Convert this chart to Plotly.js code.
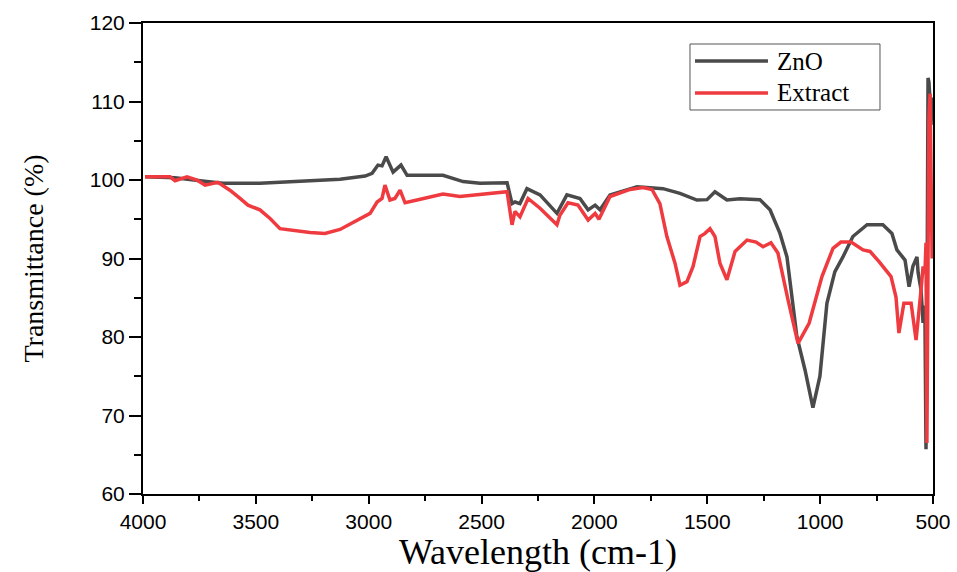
<!DOCTYPE html>
<html>
<head>
<meta charset="utf-8">
<script src="https://cdn.plot.ly/plotly-3.0.1.min.js"></script>
<style>html,body{margin:0;padding:0;background:#fff;}#chart{width:957px;height:572px;}</style>
</head>
<body>
<div id="chart"></div>
<script>
// ZnO spectrum (wavenumber, transmittance)
var znoX = [3991,3858,3747,3646,3482,3304,3127,3016,2985,2959,2941,2923,2892,2857,2830,2671,2582,2507,2387,2365,2352,2330,2299,2241,2166,2122,2064,2028,1997,1975,1931,1811,1696,1621,1546,1501,1466,1413,1355,1267,1222,1178,1147,1103,1067,1032,1001,970,935,899,855,792,722,682,660,624,606,589,571,566,553,544,536,531,527,522,518,513,509,504];
var znoY = [100.4,100.3,99.9,99.6,99.6,99.8,100.1,100.5,100.85,101.9,101.8,102.95,101.0,101.9,100.6,100.6,99.8,99.6,99.65,97.0,97.2,97.0,98.9,98.1,95.75,98.1,97.65,96.2,96.8,96.2,98.1,99.15,98.9,98.3,97.45,97.5,98.5,97.45,97.6,97.5,96.2,93.2,90.2,80.05,75.8,71.0,75.0,84.3,88.3,90.2,92.8,94.3,94.3,93.2,91.1,89.8,86.4,89.0,90.2,88.2,86.0,81.8,84.0,65.7,80.0,113.0,112.5,110.0,107.0,110.5];
// Extract spectrum
var extX = [3991,3880,3858,3805,3761,3725,3668,3615,3570,3535,3482,3437,3393,3260,3194,3127,2994,2963,2941,2928,2906,2884,2861,2839,2786,2671,2596,2387,2365,2352,2330,2294,2241,2166,2153,2117,2073,2028,1997,1980,1931,1842,1785,1745,1710,1679,1643,1621,1590,1563,1532,1510,1488,1466,1444,1413,1377,1324,1284,1253,1218,1187,1142,1098,1049,1018,992,943,908,863,810,779,739,686,664,651,629,597,575,553,544,536,531,527,518,513,509,504];
var extY = [100.4,100.4,99.9,100.4,100.0,99.35,99.7,98.7,97.65,96.8,96.2,95.1,93.8,93.3,93.2,93.7,95.75,97.2,97.65,99.35,97.45,97.65,98.7,97.1,97.45,98.2,97.9,98.5,94.3,96.0,95.3,97.65,96.4,94.3,95.5,97.1,96.8,94.9,95.75,95.0,97.9,98.8,99.05,98.8,97.0,92.8,89.4,86.6,87.05,89.0,92.8,93.2,93.8,92.8,89.4,87.3,90.9,92.35,92.1,91.5,92.0,90.7,84.7,79.2,81.75,85.1,87.7,91.3,92.1,92.1,91.1,90.9,89.6,87.7,85.1,80.5,84.3,84.3,79.6,86.0,89.0,88.0,92.0,66.5,108.0,111.0,95.0,90.0];
var seriesNames = ['ZnO', 'Extract'];
var seriesColors = ['#4a4a4a', '#ef3b3f'];
var xTicks = [4000,3500,3000,2500,2000,1500,1000,500];
var yTicks = [60,70,80,90,100,110,120];

var traces = [
  {x: znoX, y: znoY, name: seriesNames[0], type: 'scatter', mode: 'lines',
   line: {color: seriesColors[0], width: 3.5}},
  {x: extX, y: extY, name: seriesNames[1], type: 'scatter', mode: 'lines',
   line: {color: seriesColors[1], width: 3.5}}
];

// Legend drawn in paper coordinates (long sample lines like the original)
var serif = 'Liberation Serif, Times New Roman, serif';
var legRows = [0.9193, 0.8514];
var shapes = [
  {type: 'rect', xref: 'paper', yref: 'paper', x0: 0.6924, x1: 0.9329, y0: 0.8153, y1: 0.9554,
   line: {color: '#555', width: 1}, fillcolor: 'rgba(255,255,255,0)'}
];
var annotations = [];
seriesNames.forEach(function (n, i) {
  shapes.push({type: 'line', xref: 'paper', yref: 'paper', x0: 0.6987, x1: 0.7911,
    y0: legRows[i], y1: legRows[i], line: {color: seriesColors[i], width: 3.5}});
  annotations.push({xref: 'paper', yref: 'paper', x: 0.8000, y: legRows[i],
    xanchor: 'left', yanchor: 'middle', text: n, showarrow: false,
    font: {family: serif, size: 25, color: '#000'}});
});

var layout = {
  width: 957, height: 572,
  margin: {l: 143, r: 24, t: 23, b: 78},
  paper_bgcolor: '#fff', plot_bgcolor: '#fff',
  showlegend: false,
  shapes: shapes,
  annotations: annotations,
  xaxis: {
    range: [4000, 500], tickvals: xTicks, ticktext: xTicks.map(String),
    showgrid: false, zeroline: false,
    showline: true, linecolor: '#000', linewidth: 2, mirror: true,
    ticks: 'outside', ticklen: 8, tickwidth: 2, tickcolor: '#000',
    minor: {dtick: 250, ticks: 'outside', ticklen: 5, tickwidth: 2, tickcolor: '#000', showgrid: false},
    tickfont: {family: 'Liberation Sans, Arial, sans-serif', size: 21, color: '#000'},
    title: {text: 'Wavelength (cm-1)', standoff: 8,
      font: {family: serif, size: 36, color: '#000'}}
  },
  yaxis: {
    range: [60, 120], tickvals: yTicks, ticktext: yTicks.map(String),
    showgrid: false, zeroline: false,
    showline: true, linecolor: '#000', linewidth: 2, mirror: true,
    ticks: 'outside', ticklen: 12, tickwidth: 2, tickcolor: '#000',
    minor: {dtick: 5, ticks: 'outside', ticklen: 7, tickwidth: 2, tickcolor: '#000', showgrid: false},
    tickfont: {family: 'Liberation Sans, Arial, sans-serif', size: 21, color: '#000'},
    title: {text: 'Transmittance (%)', standoff: 38,
      font: {family: serif, size: 28, color: '#000'}}
  }
};

Plotly.newPlot('chart', traces, layout, {displayModeBar: false, staticPlot: true});
</script>
</body>
</html>
